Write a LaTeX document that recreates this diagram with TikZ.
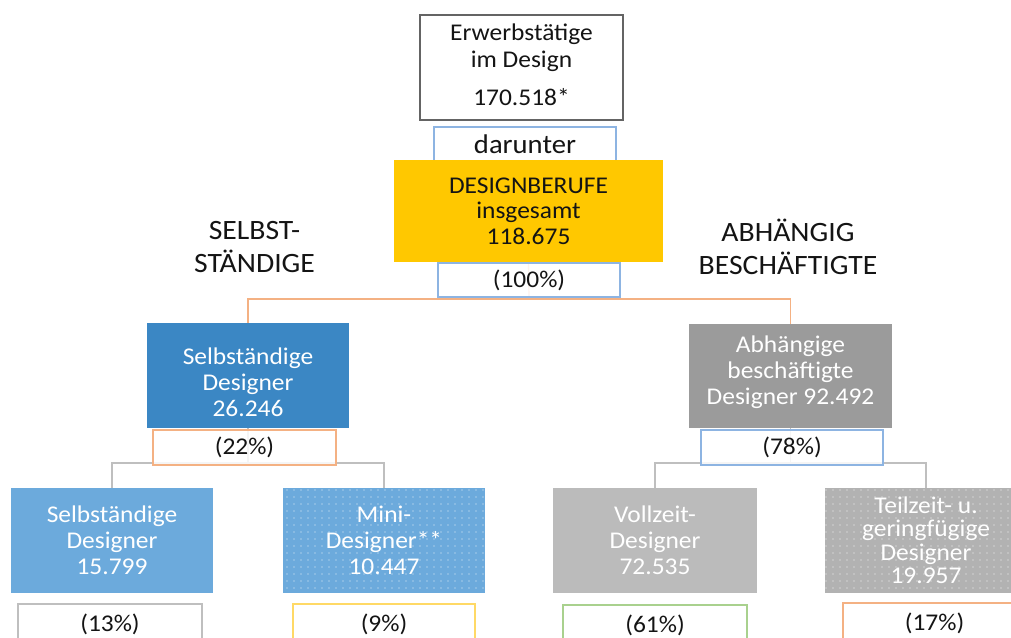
\documentclass[tikz,border=0pt]{standalone}
\usepackage{fontspec}
\setmainfont{Carlito}[FakeStretch=1.06]
\usetikzlibrary{patterns.meta,backgrounds}
\definecolor{yel}{RGB}{255,200,0}
\definecolor{blueA}{RGB}{59,135,196}
\definecolor{blueB}{RGB}{108,170,220}
\definecolor{grayA}{RGB}{155,155,155}
\definecolor{grayB}{RGB}{187,187,187}
\definecolor{grayC}{RGB}{178,178,178}
\definecolor{bblue}{RGB}{141,180,226}
\definecolor{borange}{RGB}{244,177,131}
\definecolor{bgray}{RGB}{191,191,191}
\definecolor{byellow}{RGB}{255,217,102}
\definecolor{bgreen}{RGB}{169,209,142}
\definecolor{topgray}{RGB}{100,100,100}
\definecolor{txt}{RGB}{20,20,20}
\begin{document}
\begin{tikzpicture}[x=1pt,y=-1pt,
  box/.style={minimum width=202pt, minimum height=105pt, inner sep=0pt, align=center,
    font=\fontsize{24}{26}\selectfont, text=white},
  boxtext/.style={inner sep=0pt, align=center, font=\fontsize{24}{26}\selectfont, text=white},
  pct/.style={draw, line width=1.2pt, fill=white, fill opacity=0.85, text opacity=1,
    minimum width=183pt, minimum height=35pt, inner sep=0pt, text=txt,
    font=\fontsize{24}{26}\selectfont},
  dotted fill/.style={postaction={pattern={Dots[distance=7pt,radius=0.7pt]}, pattern color=white!85!#1}},
  orangeline/.style={draw=borange, line width=1.2pt},
  grayline/.style={draw=bgray, line width=1.2pt},
  head/.style={text=txt, font=\fontsize{28}{33}\selectfont}
]
\useasboundingbox (0,0) rectangle (1011,637);

% top
\node[draw=topgray, line width=1.2pt, fill=white, minimum width=203pt, minimum height=105pt,
  inner sep=0pt] (top) at (521.5,67.5) {};
\node[boxtext, text=txt, font=\fontsize{24}{27}\selectfont] (toptext) at ([yshift=3pt]top.center)
  {Erwerbstätige\\im Design\\[11pt]170.518*};
\node[pct, draw=bblue, minimum width=182pt, font=\fontsize{27}{30}\selectfont]
  (dar) at (525,144.5) {darunter};
\node[box, fill=yel, text=txt, minimum width=269pt, minimum height=102pt,
  font=\fontsize{24}{25.5}\selectfont] (yel) at (528.5,211) {DESIGNBERUFE\\insgesamt\\118.675};
\node[pct, draw=bblue, minimum width=182pt, minimum height=34pt] (p100) at (529,280) {(100\%)};

\node[head, align=center] (hsel) at (254.5,247) {SELBST-\\STÄNDIGE};
\node[head, align=center] (habh) at (788,247) {ABHÄNGIG\\BESCHÄFTIGTE};

% level 2
\node[box, fill=blueA] (selb) at (248,375.5) {};
\node[boxtext] (selbtext) at ([yshift=-7pt]selb.center) {Selbständige\\Designer\\26.246};
\node[box, fill=grayA, minimum width=203pt, minimum height=104pt] (abh) at (790.5,376) {};
\node[boxtext] (abhtext) at ([yshift=4pt]abh.center) {Abhängige\\beschäftigte\\Designer 92.492};
\node[pct, draw=borange] (p22) at (244.5,447.5) {(22\%)};
\node[pct, draw=bblue, minimum width=182pt] (p78) at (792,447.5) {(78\%)};

% level 3
\node[box, fill=blueB] (b1) at (112,540.5) {Selbständige\\Designer\\15.799};
\node[box, fill=blueB, dotted fill=blueB] (b2) at (384,540.5) {Mini-\\Designer**\\10.447};
\node[box, fill=grayB, minimum width=204pt] (b3) at (655,540.5) {Vollzeit-\\Designer\\72.535};
\node[box, fill=grayC, dotted fill=grayC, font=\fontsize{24}{23.5}\selectfont] (b4) at (926,540.5)
  {Teilzeit- u.\\geringfügige\\Designer\\19.957};

\node[pct, draw=bgray, minimum width=184pt, minimum height=40pt] (p13) at (110,624) {(13\%)};
\node[pct, draw=byellow, minimum width=182pt, minimum height=40pt] (p9) at (384,624) {(9\%)};
\node[pct, draw=bgreen, minimum width=184pt, minimum height=40pt] (p61) at (655,625) {(61\%)};
\node[pct, draw=borange, minimum width=183pt, minimum height=40pt] (p17) at (934.5,623) {(17\%)};

\coordinate (j0) at (529,299);
\coordinate (jl) at (248,463);
\coordinate (jr) at (790.5,463);
\begin{scope}[on background layer]
  \draw[orangeline] (yel.south) -- (j0);
  \draw[orangeline] (selb.north) |- (j0) -| (abh.north);
  \draw[grayline] (selb.south) -- (jl);
  \draw[grayline] (b1.north) |- (jl) -| (b2.north);
  \draw[grayline] (abh.south) -- (jr);
  \draw[grayline] (b3.north) |- (jr) -| (b4.north);
\end{scope}
\end{tikzpicture}
\end{document}
